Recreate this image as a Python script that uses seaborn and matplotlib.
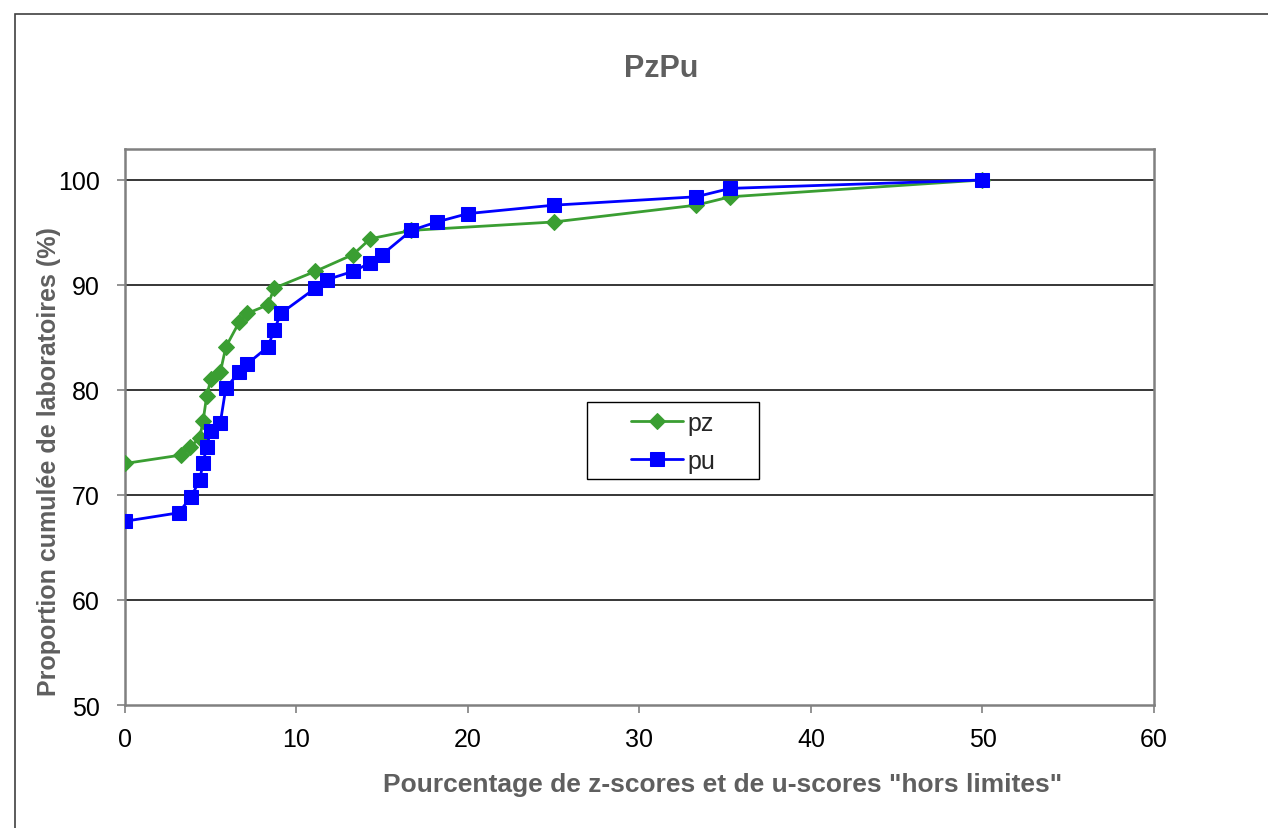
import matplotlib
matplotlib.use("Agg")
import matplotlib.pyplot as plt
import seaborn as sns
import pandas as pd
from matplotlib.patches import Rectangle

sns.set_style("white")
plt.rcParams['font.family'] = ['Liberation Sans', 'DejaVu Sans']

title = "PzPu"
xlabel = 'Pourcentage de z-scores et de u-scores "hors limites"'
ylabel = "Proportion cumulée de laboratoires (%)"

pz_x = [0, 3.25, 3.8, 4.35, 4.55, 4.76, 5.0, 5.56, 5.88, 6.67, 7.14, 8.33, 8.7,
        11.1, 13.3, 14.3, 16.7, 25.0, 33.3, 35.3, 50.0]
pz_y = [73.0, 73.8, 74.6, 75.4, 77.0, 79.4, 81.0, 81.7, 84.1, 86.5, 87.3, 88.1,
        89.7, 91.3, 92.9, 94.4, 95.2, 96.0, 97.6, 98.4, 100.0]

pu_x = [0, 3.12, 3.85, 4.35, 4.55, 4.76, 5.0, 5.56, 5.88, 6.67, 7.14, 8.33, 8.7,
        9.09, 11.1, 11.76, 13.3, 14.3, 15.0, 16.7, 18.18, 20.0, 25.0, 33.3, 35.3, 50.0]
pu_y = [67.5, 68.3, 69.8, 71.4, 73.0, 74.6, 76.1, 76.9, 80.2, 81.7, 82.5, 84.1,
        85.7, 87.3, 89.7, 90.5, 91.3, 92.1, 92.9, 95.2, 96.0, 96.8, 97.6, 98.4, 99.2, 100.0]

df_pz = pd.DataFrame({"x": pz_x, "y": pz_y})
df_pu = pd.DataFrame({"x": pu_x, "y": pu_y})

W, H = 1268, 829
fig = plt.figure(figsize=(W / 100, H / 100), dpi=100)
ax = fig.add_axes([125 / W, 1 - 706 / H, (1154 - 125) / W, (706 - 150) / H])

# outer chart border
fig.patches.append(Rectangle((15 / W, -0.01), 1.1, 1 - 15 / H + 0.01, transform=fig.transFigure,
                             fill=False, edgecolor="#404040", linewidth=1.2))

green = "#3a9e32"
blue = "#0000ff"
sns.lineplot(data=df_pz, x="x", y="y", ax=ax, color=green, marker="D", markersize=8,
             markeredgecolor=green, linewidth=2, estimator=None, sort=False, label="pz", zorder=3)
sns.lineplot(data=df_pu, x="x", y="y", ax=ax, color=blue, marker="s", markersize=10.5,
             markeredgecolor=blue, linewidth=2, estimator=None, sort=False, label="pu", zorder=4)

ax.set_xlim(0, 60)
ax.set_ylim(50, 102.95)
ax.set_xticks(range(0, 61, 10))
ax.set_yticks(range(50, 101, 10))
for yv in range(60, 101, 10):
    ax.axhline(yv, color="black", linewidth=1.1, zorder=1)
ax.tick_params(axis="both", which="major", direction="out", length=6, width=1.2,
               color="#808080", labelsize=18, labelcolor="black",
               bottom=True, left=True)
ax.tick_params(axis="x", pad=10)
ax.tick_params(axis="y", pad=12)
for s in ax.spines.values():
    s.set_color("#808080")
    s.set_linewidth(1.8)

ax.set_xlabel("")
ax.set_ylabel("")
fig.text(723 / W, 1 - 785 / H, xlabel, fontsize=19, fontweight="bold", color="#5f5f5f",
         ha="center", va="center")
fig.text(49 / W, 1 - 462 / H, ylabel, fontsize=18, fontweight="bold", color="#5f5f5f",
         ha="center", va="center", rotation=90)
fig.text(661 / W, 1 - 69 / H, title, fontsize=22, fontweight="bold", color="#5f5f5f",
         ha="center", va="center")

leg = ax.legend(loc="center", bbox_to_anchor=((673 - 125) / (1154 - 125), 1 - (443 - 150) / (706 - 150)),
                fontsize=18, frameon=False,
                handlelength=2.1, borderpad=0.35, labelspacing=0.55, handletextpad=0.15,
                borderaxespad=0)
leg.set_zorder(7)
# legend box outline (Excel-style wide box around the centred entries)
box = Rectangle((587 / W, 1 - 480 / H), (759 - 587) / W, (480 - 403) / H,
                transform=fig.transFigure, fill=True, facecolor="white",
                edgecolor="black", linewidth=1.0, zorder=6, clip_on=False)
ax.add_patch(box)

fig.savefig("out.png", dpi=100)
